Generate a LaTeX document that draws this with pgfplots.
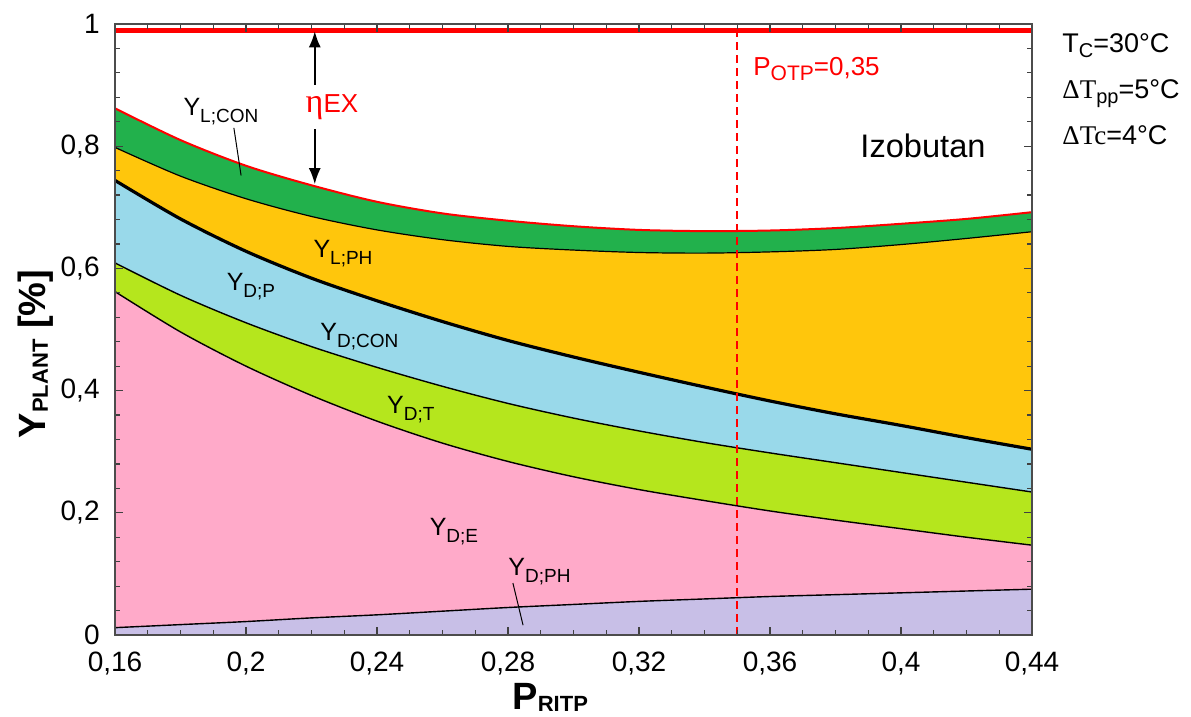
\documentclass[border=0pt]{standalone}
\usepackage{fontspec}
\setmainfont{Liberation Sans}
\newfontfamily\serifT{Liberation Serif}
\usepackage{pgfplots}
\pgfplotsset{compat=1.18}
\usepackage{pgfplotstable}
\usetikzlibrary{arrows.meta}

\definecolor{cgreen}{RGB}{34,177,76}
\definecolor{cyellow}{RGB}{255,198,12}
\definecolor{cblue}{RGB}{153,217,234}
\definecolor{clime}{RGB}{181,230,29}
\definecolor{cpink}{RGB}{255,170,201}
\definecolor{cpurple}{RGB}{200,191,231}

\newcommand{\Ylab}[1]{\fontsize{12.5bp}{14bp}\selectfont Y\raisebox{-3.5bp}{\fontsize{9.5bp}{10bp}\selectfont #1}}

\pgfplotstableread{
x    red  grn  thk  blu  lim  pur
0.16 .862 .798 .744 .609 .562 .012
0.18 .810 .751 .681 .556 .496 .017
0.20 .768 .714 .628 .511 .440 .022
0.22 .736 .685 .584 .472 .392 .028
0.24 .709 .663 .547 .438 .350 .033
0.26 .690 .647 .513 .407 .314 .039
0.28 .678 .636 .482 .379 .284 .045
0.30 .669 .630 .455 .355 .259 .050
0.32 .663 .626 .430 .334 .238 .055
0.34 .661 .625 .406 .315 .220 .059
0.36 .662 .627 .383 .298 .203 .063
0.38 .666 .631 .362 .282 .188 .066
0.40 .673 .639 .343 .266 .174 .069
0.42 .681 .649 .323 .250 .160 .072
0.44 .692 .660 .304 .234 .147 .075
}\data

\begin{document}
\begin{tikzpicture}
\useasboundingbox (0,0) rectangle (595.5bp,358.5bp);
\begin{axis}[
  at={(57.5bp,41bp)}, anchor=south west,
  scale only axis, width=458.5bp, height=305.5bp,
  xmin=0.16, xmax=0.44, ymin=0, ymax=1,
  xtick={0.16,0.2,0.24,0.28,0.32,0.36,0.4,0.44},
  ytick={0,0.2,0.4,0.6,0.8,1},
  minor x tick num=3, minor y tick num=4,
  tick align=inside,
  major tick length=4bp, minor tick length=2.5bp,
  every tick/.style={black!75, line width=0.6bp},
  axis line style={black!70, line width=0.9bp},
  /pgf/number format/use comma,
  /pgf/number format/assume math mode=true,
  ticklabel style={font=\fontsize{14bp}{16bp}\selectfont},
  yticklabel style={inner sep=0pt, xshift=-7.5bp},
  xticklabel style={inner sep=0pt, yshift=-8.5bp},
  clip=false,
  axis on top,
]
% fills
\addplot[fill=cgreen, draw=none, smooth] table[x=x,y=red] {\data} \closedcycle;
\addplot[fill=cyellow, draw=none, smooth] table[x=x,y=grn] {\data} \closedcycle;
\addplot[fill=cblue, draw=none, smooth] table[x=x,y=thk] {\data} \closedcycle;
\addplot[fill=clime, draw=none, smooth] table[x=x,y=blu] {\data} \closedcycle;
\addplot[fill=cpink, draw=none, smooth] table[x=x,y=lim] {\data} \closedcycle;
\addplot[fill=cpurple, draw=none, smooth] table[x=x,y=pur] {\data} \closedcycle;
% boundary lines
\addplot[red, line width=1bp, smooth] table[x=x,y=red] {\data};
\addplot[black, line width=0.6bp, smooth] table[x=x,y=grn] {\data};
\addplot[black, line width=1.6bp, smooth] table[x=x,y=thk] {\data};
\addplot[black, line width=0.7bp, smooth] table[x=x,y=blu] {\data};
\addplot[black, line width=0.7bp, smooth] table[x=x,y=lim] {\data};
\addplot[black, line width=0.7bp, smooth] table[x=x,y=pur] {\data};
% OTP dashed line and top line
\addplot[red, line width=0.8bp, dash pattern=on 4bp off 2.5bp] coordinates {(0.35,0) (0.35,0.99)};
\addplot[red, line width=2.5bp] coordinates {(0.16,0.99) (0.44,0.99)};

% eta EX arrow
\draw[black, line width=0.8bp, {Latex[length=8bp,width=6bp]}-{Latex[length=8bp,width=6bp]}]
  (axis cs:0.221,0.738) -- (axis cs:0.221,0.988);
\node[anchor=west, fill=white, inner sep=1.5bp, minimum height=22bp, text=red]
  at (axis cs:0.2172,0.864) {{\serifT\fontsize{17bp}{17bp}\selectfont η}\fontsize{13bp}{14bp}\selectfont EX};

% callouts
\draw[black, line width=0.5bp] (axis cs:0.1963,0.83) -- (axis cs:0.1985,0.752);
\draw[black, line width=0.5bp] (axis cs:0.2815,0.085) -- (axis cs:0.2846,0.016);

% labels
\node[anchor=west, inner sep=0pt] at (axis cs:0.1808,0.856) {\Ylab{L;CON}};
\node[anchor=west, inner sep=0pt] at (axis cs:0.2205,0.624) {\Ylab{L;PH}};
\node[anchor=west, inner sep=0pt] at (axis cs:0.194,0.570) {\Ylab{D;P}};
\node[anchor=west, inner sep=0pt] at (axis cs:0.2226,0.488) {\Ylab{D;CON}};
\node[anchor=west, inner sep=0pt] at (axis cs:0.243,0.369) {\Ylab{D;T}};
\node[anchor=west, inner sep=0pt] at (axis cs:0.256,0.169) {\Ylab{D;E}};
\node[anchor=west, inner sep=0pt] at (axis cs:0.280,0.103) {\Ylab{D;PH}};

\node[anchor=west, inner sep=0pt, text=red] at (axis cs:0.3548,0.926)
  {\fontsize{13bp}{14bp}\selectfont P\raisebox{-2.5bp}{\fontsize{10.5bp}{11bp}\selectfont OTP}=0,35};
\node[anchor=west, inner sep=0pt] at (axis cs:0.3875,0.80)
  {\fontsize{16.3bp}{18bp}\selectfont Izobutan};

% axis labels
\node[anchor=base west, inner sep=0pt] at (axis description cs:0.433,-0.1227)
  {\bfseries\fontsize{19bp}{20bp}\selectfont P\raisebox{-1bp}{\fontsize{11bp}{12bp}\selectfont RITP}};
\node[rotate=90, anchor=center, inner sep=0pt] at (axis description cs:-0.086,0.46)
  {\bfseries\fontsize{19bp}{20bp}\selectfont Y\raisebox{-1bp}{\fontsize{11bp}{12bp}\selectfont PLANT} [\%]};
\end{axis}

% right-side texts
\node[anchor=base west, inner sep=0pt] at (531bp,332bp)
  {\fontsize{13.5bp}{15bp}\selectfont T\raisebox{-2.5bp}{\fontsize{10bp}{11bp}\selectfont C}=30°C};
\node[anchor=base west, inner sep=0pt] at (531bp,309bp)
  {\fontsize{13.5bp}{15bp}\selectfont{\serifT ΔT}\raisebox{-2.5bp}{\fontsize{10bp}{11bp}\selectfont pp}=5°C};
\node[anchor=base west, inner sep=0pt] at (531bp,286bp)
  {\fontsize{13.5bp}{15bp}\selectfont{\serifT ΔTc}=4°C};
\end{tikzpicture}
\end{document}
